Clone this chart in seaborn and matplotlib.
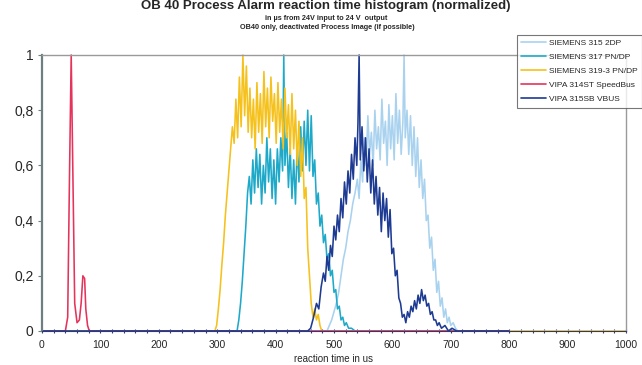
import numpy as np
import pandas as pd
import matplotlib
matplotlib.use("Agg")
import matplotlib.pyplot as plt
from matplotlib.ticker import MultipleLocator, FixedLocator, FixedFormatter
import seaborn as sns

series_names = ["SIEMENS 315 2DP", "SIEMENS 317 PN/DP", "SIEMENS 319-3 PN/DP",
                "VIPA 314ST SpeedBus", "VIPA 315SB VBUS"]
series_colors = ["#a9d2ef", "#1fa9c9", "#f5c11c", "#e5335b", "#1d3b92"]

# SIEMENS 315 2DP
s315_x = [0, 488, 492, 496, 500, 504, 508, 512, 516, 520, 524, 528, 532, 536, 540, 543, 546, 549,
          552, 555, 558, 561, 564, 567, 570, 573, 576, 579, 582, 585, 588, 591, 594, 597, 600,
          603, 606, 609, 612, 615, 618, 620, 622, 625, 628, 631, 634, 637, 640, 643, 646, 649,
          652, 655, 658, 661, 664, 667, 670, 673, 676, 679, 682, 685, 688, 691, 694, 697, 700,
          704, 708, 712, 800]
s315_y = [0, 0, 0.02, 0.04, 0.07, 0.10, 0.14, 0.20, 0.26, 0.30, 0.36, 0.40, 0.46, 0.50, 0.55, 0.48,
          0.62, 0.54, 0.70, 0.60, 0.78, 0.64, 0.72, 0.60, 0.80, 0.66, 0.74, 0.62, 0.84, 0.68,
          0.76, 0.60, 0.82, 0.66, 0.78, 0.62, 0.86, 0.68, 0.80, 0.64, 0.76, 1.00, 0.70, 0.80,
          0.64, 0.78, 0.60, 0.74, 0.56, 0.70, 0.52, 0.62, 0.48, 0.55, 0.40, 0.42, 0.30, 0.34,
          0.22, 0.26, 0.14, 0.18, 0.09, 0.12, 0.05, 0.08, 0.03, 0.05, 0.02, 0.03, 0.01, 0, 0]

# SIEMENS 317 PN/DP
s317_x = [0, 334, 337, 340, 343, 346, 349, 352, 355, 358, 361, 364, 367, 370, 373, 376, 379, 382,
          385, 388, 391, 394, 397, 400, 403, 406, 409, 412, 414, 416, 419, 422, 425, 428, 431,
          434, 437, 440, 443, 446, 449, 452, 455, 458, 461, 464, 467, 470, 473, 476, 479, 482,
          485, 488, 491, 494, 497, 500, 503, 506, 509, 512, 515, 518, 521, 525, 530, 536, 800]
s317_y = [0, 0, 0.04, 0.10, 0.18, 0.28, 0.38, 0.50, 0.56, 0.46, 0.62, 0.50, 0.66, 0.52, 0.64, 0.46,
          0.60, 0.50, 0.70, 0.54, 0.66, 0.48, 0.62, 0.46, 0.66, 0.54, 0.70, 0.58, 1.00, 0.60,
          0.72, 0.52, 0.66, 0.48, 0.62, 0.46, 0.68, 0.54, 0.74, 0.58, 0.76, 0.60, 0.80, 0.58,
          0.78, 0.56, 0.62, 0.46, 0.50, 0.38, 0.42, 0.32, 0.35, 0.26, 0.28, 0.20, 0.22, 0.14,
          0.15, 0.08, 0.09, 0.04, 0.05, 0.02, 0.03, 0.01, 0.01, 0, 0]

# SIEMENS 319-3 PN/DP
s319_x = [0, 296, 299, 302, 305, 308, 311, 314, 317, 320, 323, 326, 329, 332, 335, 338, 341, 344,
          347, 350, 353, 356, 359, 362, 365, 368, 371, 374, 377, 380, 383, 386, 389, 392, 395,
          398, 401, 404, 407, 410, 413, 416, 419, 422, 425, 428, 431, 434, 437, 440, 443, 446,
          449, 452, 455, 458, 461, 464, 467, 470, 473, 476, 479, 1000]
s319_y = [0, 0, 0.02, 0.08, 0.15, 0.24, 0.32, 0.42, 0.50, 0.58, 0.66, 0.74, 0.68, 0.84, 0.70, 0.92,
          0.74, 1.00, 0.78, 0.96, 0.72, 0.88, 0.70, 0.84, 0.66, 0.90, 0.72, 0.86, 0.68, 0.94,
          0.74, 0.88, 0.70, 0.92, 0.76, 0.86, 0.68, 0.90, 0.72, 0.84, 0.66, 0.88, 0.70, 0.82,
          0.64, 0.86, 0.66, 0.80, 0.60, 0.76, 0.56, 0.70, 0.48, 0.52, 0.30, 0.20, 0.10, 0.05,
          0.08, 0.04, 0.06, 0.02, 0, 0]

# VIPA 314ST SpeedBus
v314_x = [0, 40, 44, 47, 50, 53, 56, 60, 64, 67, 70, 73, 75, 78, 81, 800]
v314_y = [0, 0, 0.05, 0.55, 1.00, 0.55, 0.10, 0.03, 0.04, 0.10, 0.20, 0.19, 0.08, 0.02, 0, 0]

# VIPA 315SB VBUS
v315_x = [0, 455, 460, 465, 470, 474, 478, 482, 485, 488, 491, 494, 497, 500, 503, 506, 509, 512,
          515, 518, 521, 524, 527, 530, 533, 536, 539, 541, 543, 545, 548, 551, 554, 557, 560,
          563, 566, 569, 572, 575, 578, 581, 584, 587, 590, 593, 596, 599, 602, 605, 608, 611,
          614, 617, 620, 623, 626, 629, 632, 635, 638, 641, 644, 647, 650, 653, 656, 659, 662,
          665, 668, 671, 674, 677, 680, 684, 690, 696, 702, 710, 800]
v315_y = [0, 0, 0.01, 0.05, 0.10, 0.08, 0.16, 0.21, 0.18, 0.27, 0.22, 0.31, 0.27, 0.38, 0.33, 0.42,
          0.36, 0.48, 0.41, 0.54, 0.46, 0.58, 0.50, 0.64, 0.55, 0.70, 0.60, 0.75, 1.00, 0.62,
          0.74, 0.58, 0.70, 0.54, 0.66, 0.50, 0.62, 0.46, 0.56, 0.42, 0.52, 0.36, 0.50, 0.40,
          0.48, 0.34, 0.44, 0.28, 0.30, 0.20, 0.22, 0.12, 0.10, 0.05, 0.06, 0.03, 0.07, 0.05,
          0.09, 0.07, 0.11, 0.08, 0.13, 0.10, 0.15, 0.11, 0.13, 0.09, 0.10, 0.06, 0.07, 0.04,
          0.04, 0.02, 0.03, 0.01, 0.02, 0.0, 0.01, 0, 0]

y_ticks = [0, 0.2, 0.4, 0.6, 0.8, 1.0]
y_tick_labels = ["0", "0,2", "0,4", "0,6", "0,8", "1"]
x_ticks = [0, 100, 200, 300, 400, 500, 600, 700, 800, 900, 1000]

frames = []
for name, xs, ys in zip(series_names,
                        [s315_x, s317_x, s319_x, v314_x, v315_x],
                        [s315_y, s317_y, s319_y, v314_y, v315_y]):
    frames.append(pd.DataFrame({"t": xs, "v": ys, "series": name}))
df = pd.concat(frames, ignore_index=True)

sns.set_style("white")
plt.rcParams["font.family"] = ["Liberation Sans", "DejaVu Sans"]

fig = plt.figure(figsize=(6.42, 3.65), dpi=100)
ax = fig.add_axes([42 / 642, 34 / 365, 584 / 642, 276 / 365])

sns.lineplot(data=df, x="t", y="v", hue="series", hue_order=series_names,
             palette=dict(zip(series_names, series_colors)), estimator=None,
             sort=False, linewidth=1.15, ax=ax, clip_on=False)

ax.set_xlim(0, 1000)
ax.set_ylim(0, 1)
ax.xaxis.set_major_locator(FixedLocator(x_ticks))
ax.xaxis.set_minor_locator(MultipleLocator(20))
ax.yaxis.set_major_locator(FixedLocator(y_ticks))
ax.yaxis.set_major_formatter(FixedFormatter(y_tick_labels))
ax.tick_params(axis="x", which="both", direction="inout", length=3, width=0.8,
               color="#2a3a7a", labelsize=7.5, pad=5, bottom=True)
ax.tick_params(axis="y", which="major", direction="out", length=3, width=0.8,
               color="#6e7f80", labelsize=10, pad=3, left=True)

for side in ["top", "right"]:
    ax.spines[side].set_color("#9a9a9a")
    ax.spines[side].set_linewidth(1.0)
ax.spines["left"].set_color("#6e7f80")
ax.spines["left"].set_linewidth(1.6)
ax.spines["bottom"].set_color("#2a3a7a")
ax.spines["bottom"].set_linewidth(0.8)

ax.set_xlabel("reaction time in us", fontsize=7, labelpad=3)
ax.set_ylabel("")

fig.text(0.508, 1 - 0.5 / 365, "OB 40 Process Alarm reaction time histogram (normalized)",
         ha="center", va="top", fontsize=9.5, fontweight="bold")
fig.text(0.508, 1 - 18 / 365, "in \u00b5s from 24V input to 24 V  output",
         ha="center", va="center", fontsize=5.2, fontweight="bold")
fig.text(0.51, 1 - 27.5 / 365, "OB40 only, deactivated Process Image (if possible)",
         ha="center", va="center", fontsize=5.2, fontweight="bold")

leg = ax.legend(loc="upper left", bbox_to_anchor=(517 / 642, 1 - 35 / 365),
                bbox_transform=fig.transFigure, fontsize=6, frameon=True,
                fancybox=False, handlelength=3.0, handletextpad=0.3,
                labelspacing=0.75, borderpad=0.5, borderaxespad=0)
leg.get_frame().set_edgecolor("#555555")
leg.get_frame().set_linewidth(0.8)
for line in leg.get_lines():
    line.set_linewidth(1.2)

fig.savefig("out.png", dpi=100)
